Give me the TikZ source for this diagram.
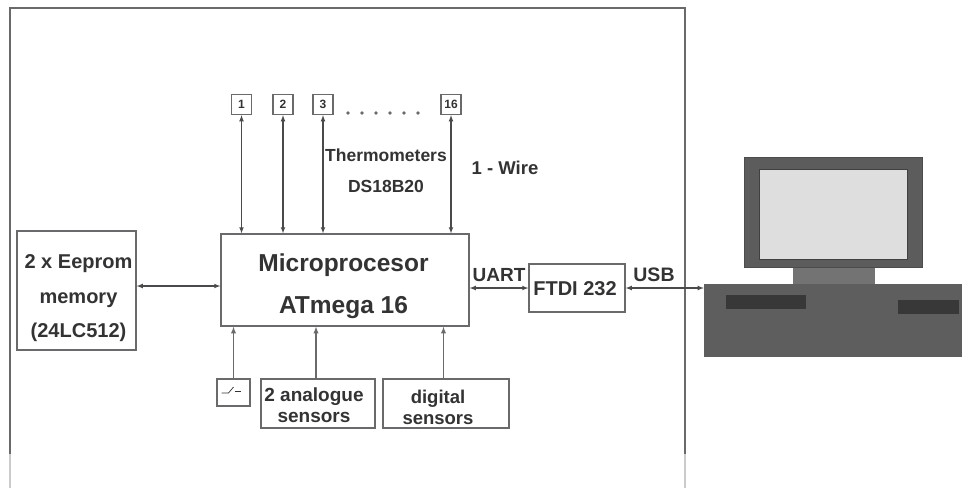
\documentclass[tikz,border=0pt]{standalone}
\usepackage{fontspec}
\setmainfont{Liberation Sans}
\usetikzlibrary{arrows,positioning}
\newcommand{\fsz}[2]{\fontsize{#1pt}{#2pt}\selectfont\bfseries}
\definecolor{ink}{HTML}{333335}
\definecolor{wire}{HTML}{6A6A6C}

\begin{document}
\begin{tikzpicture}[x=1pt,y=-1pt,
    item/.style={rectangle,draw=wire,line width=1.3pt,inner sep=0pt,align=center,text=ink},
    therm/.style={item,minimum width=20pt,minimum height=20pt,font=\fsz{12}{14}},
    link/.style={draw=wire!70!black,line width=1.1pt,latex-latex},
    linkb/.style={draw=wire,line width=1.3pt,-latex},
    lbl/.style={text=ink,inner sep=0pt,align=center},
    solid/.style={inner sep=0pt,minimum width=#1}]
  \useasboundingbox (0,0) rectangle (962,488);
  \fill[white] (0,0) rectangle (962,488);
  % outer frame
  \coordinate (fa) at (10,454);
  \coordinate (fb) at (685,454);
  \draw[wire,line width=1.5pt] (fa) |- (685,8) -- (fb);
  \draw[wire!35,line width=1.5pt] (fa) -- (10,488);
  \draw[wire!35,line width=1.5pt] (fb) -- (685,488);
  % blocks
  \node[item,minimum width=248pt,minimum height=92pt] (micro) at (345,280) {};
  \node[lbl,font=\fsz{24.5}{42}] (microt) at (343.5,286) {Microprocesor\\ATmega 16};
  \node[item,minimum width=119pt,minimum height=119pt] (eeprom) at (76.5,290.5) {};
  \node[lbl,font=\fsz{20}{34.5}] (eepromt) at (78.5,298.5) {2 x Eeprom\\memory\\(24LC512)};
  \node[item,minimum width=96pt,minimum height=48pt] (ftdi) at (577,288) {};
  \node[lbl,font=\fsz{20}{24}] (ftdit) at (575,289) {FTDI 232};
  % thermometers
  \node[therm] (t1) at (241.5,104.5) {1};
  \node[therm,right=20.2pt of t1] (t2) {2};
  \node[therm,right=18.7pt of t2] (t3) {3};
  \node[therm,right=106.7pt of t3] (t16) {16};
  \foreach \X in {1,2,3,16}
    {\draw[link] (t\X.south) -- (t\X |- micro.north);}
  \foreach \X in {348,362,376,390,404,418}
    {\fill[wire] (\X,113) circle (1.8);}
  \node[lbl,font=\fsz{17.5}{20}] (thn) at (386,155) {Thermometers};
  \node[lbl,font=\fsz{17.5}{20}] (dsn) at (386,186) {DS18B20};
  \node[lbl,font=\fsz{18.5}{20}] (onew) at (505,168) {1 - Wire};
  % sensors
  \node[item,minimum width=33pt,minimum height=27pt] (swt) at (233.5,392.5) {};
  \draw[ink,line width=0.7pt] ([shift={(-12,0.5)}]swt.center) -- ++(7,0) -- ++(5,-6);
  \draw[ink,line width=0.7pt] ([shift={(1,-1)}]swt.center) -- ++(6,0);
  \node[item,minimum width=114pt,minimum height=49pt] (ana) at (318,403.5) {};
  \node[lbl,font=\fsz{19}{21}] (anat) at (314,405.5) {2 analogue\\sensors};
  \node[item,minimum width=126pt,minimum height=49pt] (dig) at (446,403.5) {};
  \node[lbl,font=\fsz{18.5}{21}] (digt) at (438,407.5) {digital\\sensors};
  \draw[linkb] (swt.north) -- (swt.north |- micro.south);
  \draw[linkb] ([xshift=-2pt]ana.north) -- ([xshift=-2pt]ana.north |- micro.south);
  \draw[linkb] ([xshift=-2.5pt]dig.north) -- ([xshift=-2.5pt]dig.north |- micro.south);
  % computer
  \node[solid=258pt,fill=black!63!white,minimum height=73pt] (case) at (833,320.5) {};
  \node[solid=82pt,fill=black!55!white,minimum height=17pt] (stand) at (834,275.5) {};
  \node[solid=178pt,fill=black!64!white,draw=black!70!white,minimum height=110pt] (mon) at (833,212) {};
  \node[solid=148pt,fill=black!13!white,draw=black!75!white,minimum height=90pt] (scr) at (833,214) {};
  \node[solid=80pt,fill=black!78!white,minimum height=14pt] (slota) at (766,302) {};
  \node[solid=61pt,fill=black!78!white,minimum height=14pt] (slotb) at (928.5,307) {};
  % links
  \draw[link] ([yshift=4.5pt]eeprom.east) -- ([yshift=4.5pt]eeprom.east -| micro.west);
  \draw[link] (ftdi.west -| micro.east) -- (ftdi.west);
  \draw[link] (ftdi.east) -- (ftdi.east -| case.west);
  \node[lbl,font=\fsz{19}{22}] (uart) at (499,275) {UART};
  \node[lbl,font=\fsz{19.5}{22}] (usb) at (654,275) {USB};
\end{tikzpicture}
\end{document}
